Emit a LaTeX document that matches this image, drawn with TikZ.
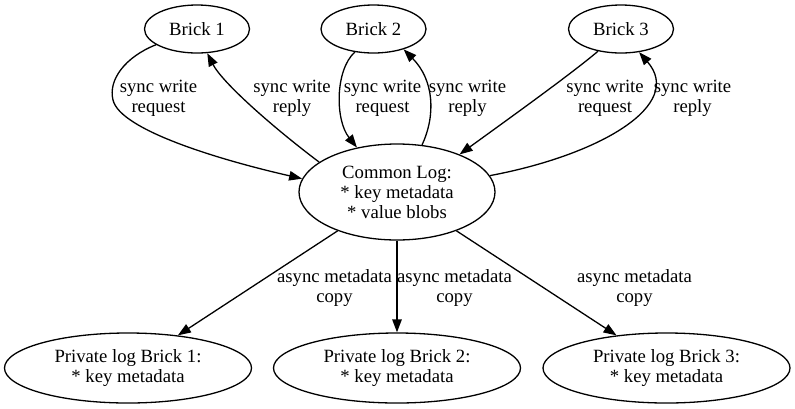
\documentclass[tikz,border=0pt]{standalone}
\usepackage{fontspec}
\setmainfont{Liberation Serif}
\usetikzlibrary{shapes.geometric,arrows.meta}

\begin{document}
\begin{tikzpicture}[x=1pt, y=-1pt, line width=1.3pt,
  every node/.style={font=\fontsize{18.7}{20}\selectfont, align=center},
  brick/.style={draw, ellipse, minimum width=105pt, minimum height=48pt, inner sep=0pt},
  common/.style={draw, ellipse, minimum width=196pt, minimum height=96pt, inner sep=0pt},
  private/.style={draw, ellipse, minimum width=247pt, minimum height=70pt, inner sep=0pt},
  edge/.style={-{Triangle[length=13pt, width=9.5pt]}}]
  \useasboundingbox (0,0) rectangle (795,408);
  \node[brick] (b1) at (197,29) {Brick 1};
  \node[brick] (b2) at (373.5,29) {Brick 2};
  \node[brick] (b3) at (621,29) {Brick 3};
  \node[common] (log) at (397,192) {Common Log:\\* key metadata\\* value blobs};
  \node[private] (p1) at (128,368) {Private log Brick 1:\\* key metadata};
  \node[private] (p2) at (397,368) {Private log Brick 2:\\* key metadata};
  \node[private] (p3) at (666.5,368) {Private log Brick 3:\\* key metadata};
  % edge labels
  \node (l1) at (158.5,98) {sync write\\request};
  \node (l2) at (292,98) {sync write\\reply};
  \node (l3) at (382.5,98) {sync write\\request};
  \node (l4) at (467.5,98) {sync write\\reply};
  \node (l5) at (605,98) {sync write\\request};
  \node (l6) at (692.5,98) {sync write\\reply};
  \node (l7) at (334.5,288) {async metadata\\copy};
  \node (l8) at (454.5,288) {async metadata\\copy};
  \node (l9) at (634.5,288) {async metadata\\copy};
  % sync traffic
  \draw[edge] (b1.201) .. controls (125,57) and (108,80) .. (113,100)
    .. controls (120,130) and (220,160) .. (log.172);
  \draw[edge] (log.159) .. controls (270,125) and (222,82) .. (b1.293);
  \draw[edge] (b2.231) .. controls (335,70) and (335,120) .. (log.132);
  \draw[edge] (log.62) .. controls (436,115) and (434,80) .. (b2.326);
  \draw[edge] (b3.224) .. controls (570,75) and (500,125) .. (log.31);
  \draw[edge] (log.10) .. controls (600,155) and (685,105) .. (b3.308);
  % async copies
  \draw[edge] (log) -- (p1);
  \draw[edge] (log) -- (p2);
  \draw[edge] (log) -- (p3);
\end{tikzpicture}
\end{document}
